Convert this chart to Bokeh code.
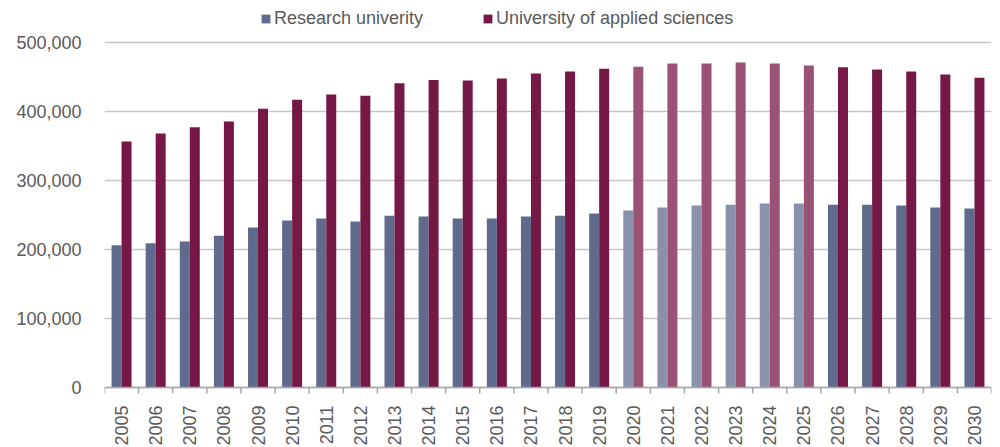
from bokeh.plotting import figure
from bokeh.models import (ColumnDataSource, Legend, LegendItem, FixedTicker,
                          NumeralTickFormatter, Range1d)
from bokeh.core.properties import value
from bokeh.transform import dodge
from bokeh.embed import file_html
from bokeh.resources import INLINE
import math

years = [2005, 2006, 2007, 2008, 2009, 2010, 2011, 2012, 2013, 2014, 2015, 2016, 2017,
         2018, 2019, 2020, 2021, 2022, 2023, 2024, 2025, 2026, 2027, 2028, 2029, 2030]
research = [206000, 209000, 211500, 220000, 232000, 242000, 245000, 240500, 249000,
            247800, 245000, 245000, 247800, 249000, 252000, 256500, 261000, 263800,
            265000, 266700, 266700, 265000, 265000, 263800, 261000, 259400]
applied = [356500, 368000, 377000, 385500, 404000, 417000, 424600, 423000, 441000,
           445500, 445000, 448000, 455000, 458000, 462000, 465000, 469600, 469600,
           471000, 469600, 466700, 464000, 461000, 458000, 453600, 449000]
projection_years = [2020, 2021, 2022, 2023, 2024, 2025]
y_ticks = [0, 100000, 200000, 300000, 400000, 500000]

series_names = ["Research univerity", "University of applied sciences"]
dark_colors = ["#5f6a8c", "#761846"]
light_colors = ["#8991ab", "#995274"]

ru_col = [light_colors[0] if y in projection_years else dark_colors[0] for y in years]
ua_col = [light_colors[1] if y in projection_years else dark_colors[1] for y in years]

src = ColumnDataSource(dict(year=years, ru=research, ua=applied, ru_c=ru_col, ua_c=ua_col,
                            label=[str(y) for y in years]))

# layout: frame fills the figure height; 500,000 at 42px, 0 at 387px from top
H = 447
top_px, zero_px = 42, 387
per_px = y_ticks[-1] / (zero_px - top_px)
y_end = y_ticks[-1] + top_px * per_px
y_start = -(H - zero_px) * per_px

p = figure(width=992, height=H, output_backend="svg", toolbar_location=None,
           x_range=Range1d(years[0] - 0.5, years[-1] + 0.5),
           y_range=Range1d(y_start, y_end), x_axis_location=None,
           min_border_left=104, min_border_right=1, min_border_top=0,
           min_border_bottom=0)
p.outline_line_color = None
p.background_fill_color = "white"
p.border_fill_color = "white"
p.xgrid.grid_line_color = None

bw = 0.293
r1 = p.vbar(x=dodge("year", -bw / 2), top="ru", width=bw, source=src,
            fill_color="ru_c", line_color=None)
r2 = p.vbar(x=dodge("year", bw / 2), top="ua", width=bw, source=src,
            fill_color="ua_c", line_color=None)

font = "Liberation Sans"
txt = "#595959"
axis_col = "#a6a6a6"

# category axis: baseline, boundary ticks, rotated year labels
p.hspan(y=[0], line_color=axis_col, line_width=1.5)
bounds = [y - 0.5 for y in years] + [years[-1] + 0.5]
tick_len = 6 * per_px
p.segment(x0=bounds, y0=[0] * len(bounds), x1=bounds, y1=[-tick_len] * len(bounds),
          line_color=axis_col, line_width=1.5)
p.text(x="year", y=0, text="label", source=src, angle=math.pi / 2,
       y_offset=18, text_align="right", text_baseline="middle",
       text_font=value(font), text_font_size="18px", text_color=txt)

p.yaxis.ticker = FixedTicker(ticks=y_ticks)
p.yaxis.formatter = NumeralTickFormatter(format="0,0")
p.yaxis.axis_line_color = None
p.yaxis.major_tick_line_color = None
p.yaxis.minor_tick_line_color = None
p.yaxis.major_label_text_font = font
p.yaxis.major_label_text_font_size = "18px"
p.yaxis.major_label_text_color = txt
p.yaxis.major_label_standoff = 17
p.ygrid.grid_line_color = "#c6c6c6"
p.ygrid.grid_line_width = 1.5

legend = Legend(items=[LegendItem(label=series_names[0], renderers=[r1], index=0),
                       LegendItem(label=series_names[1], renderers=[r2], index=0)],
                orientation="horizontal", location=(156, 418),
                glyph_width=11, glyph_height=11, label_standoff=3, spacing=59,
                padding=0, margin=0, border_line_color=None,
                background_fill_alpha=0,
                label_text_font=font, label_text_font_size="18px",
                label_text_color=txt)
p.add_layout(legend, "center")

open("out.html", "w").write(file_html(p, INLINE))
